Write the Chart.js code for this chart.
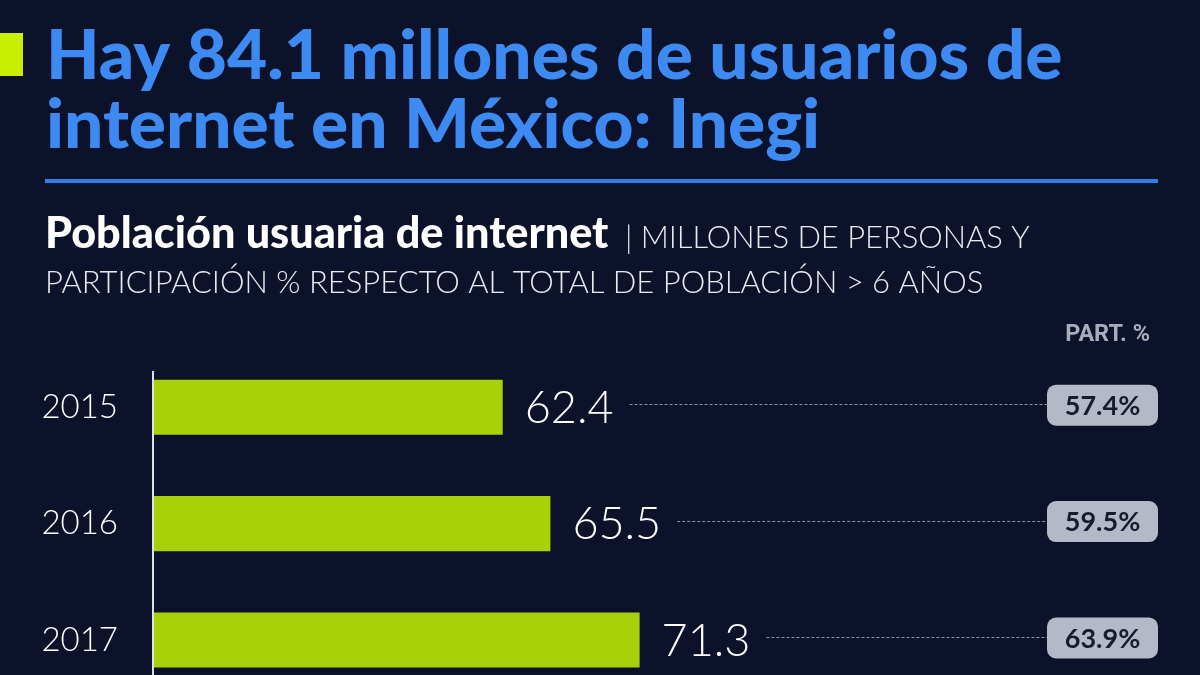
<!DOCTYPE html>
<html>
<head>
<meta charset="utf-8">
<script src="https://cdn.jsdelivr.net/npm/chart.js@4"></script>
<style>
  html, body { margin: 0; padding: 0; background: #0b1229; overflow: hidden; }
  #wrap { position: relative; width: 1200px; height: 752px; }
</style>
</head>
<body>
<div id="wrap"><canvas id="internetChart"></canvas></div>
<script>
// datos: población usuaria de internet (millones) y participación %
const years = ['2015', '2016', '2017'];
const usuarios = [62.4, 65.5, 71.3];
const participacion = [57.4, 59.5, 63.9];

const titleLines = ['Hay 84.1 millones de usuarios de', 'internet en México: Inegi'];
const subBold = 'Población usuaria de internet';
const subLight1 = '| MILLONES DE PERSONAS Y';
const subLight2 = 'PARTICIPACIÓN % RESPECTO AL TOTAL DE POBLACIÓN > 6 AÑOS';
const partLabel = 'PART. %';

const BG = '#0b1229';
const GREEN = '#a8d10a';
const BLUE = '#3d8af2';

// ajusta el tamaño de la fuente para que el texto ocupe el ancho indicado
function fitFont(ctx, text, weight, family, width) {
  ctx.font = weight + ' 100px ' + family;
  const w = ctx.measureText(text).width;
  const size = 100 * width / w;
  return weight + ' ' + size.toFixed(1) + 'px ' + family;
}

const headerPlugin = {
  id: 'header',
  beforeDraw(chart) {
    const ctx = chart.ctx;
    ctx.save();
    ctx.fillStyle = BG;
    ctx.fillRect(0, 0, chart.width, chart.height);

    // marca verde
    ctx.fillStyle = '#c8ee00';
    ctx.fillRect(0, 33, 23, 43);

    // título
    ctx.fillStyle = BLUE;
    ctx.textBaseline = 'alphabetic';
    ctx.textAlign = 'left';
    ctx.font = fitFont(ctx, titleLines[0], '900', 'Lato, "Noto Sans", sans-serif', 1017);
    ctx.fillText(titleLines[0], 46, 79);
    ctx.fillText(titleLines[1], 46, 148);

    // separador
    ctx.fillStyle = '#2f7fe6';
    ctx.fillRect(45, 179, 1113, 4);

    // subtítulo
    ctx.fillStyle = '#ffffff';
    ctx.font = fitFont(ctx, subBold, '900', 'Lato, "Noto Sans", sans-serif', 563);
    ctx.fillText(subBold, 45, 248);
    ctx.fillStyle = '#e8eaf0';
    ctx.font = fitFont(ctx, subLight1, '300', 'Lato, "Noto Sans", sans-serif', 405);
    ctx.fillText(subLight1, 625, 248);
    ctx.font = fitFont(ctx, subLight2, '300', 'Lato, "Noto Sans", sans-serif', 937);
    ctx.fillText(subLight2, 45, 293);

    // encabezado de la columna
    ctx.fillStyle = '#a9adbb';
    ctx.textAlign = 'right';
    ctx.font = fitFont(ctx, partLabel, 'bold', '"Liberation Sans Narrow", "Roboto", sans-serif', 85);
    ctx.fillText(partLabel, 1150, 341);
    ctx.restore();
  },
  afterDatasetsDraw(chart) {
    const ctx = chart.ctx;
    const meta = chart.getDatasetMeta(0);
    const yScale = chart.scales.y;
    ctx.save();

    // eje vertical
    ctx.strokeStyle = '#dde1ea';
    ctx.lineWidth = 2;
    ctx.beginPath();
    ctx.moveTo(yScale.right + 1, 371);
    ctx.lineTo(yScale.right + 1, chart.height);
    ctx.stroke();

    meta.data.forEach((bar, i) => {
      const y = bar.y;
      // valor
      ctx.fillStyle = '#ffffff';
      ctx.textAlign = 'left';
      ctx.textBaseline = 'middle';
      ctx.font = '300 45px Lato, "Noto Sans", sans-serif';
      const txt = usuarios[i].toFixed(1);
      const tx = bar.x + 22;
      ctx.fillText(txt, tx, y + 1);
      const tw = ctx.measureText(txt).width;

      // pastilla
      const px = 1047, pw = 111, ph = 41;
      const py = y - 2 - ph / 2;

      // línea punteada
      ctx.strokeStyle = '#8a91a8';
      ctx.lineWidth = 1;
      ctx.setLineDash([3, 2]);
      ctx.beginPath();
      ctx.moveTo(tx + tw + 16, Math.round(y - 3) + 0.5);
      ctx.lineTo(px, Math.round(y - 3) + 0.5);
      ctx.stroke();
      ctx.setLineDash([]);

      ctx.fillStyle = '#b5b9c7';
      ctx.beginPath();
      ctx.roundRect(px, py, pw, ph, 9);
      ctx.fill();
      ctx.fillStyle = '#161b30';
      ctx.textAlign = 'center';
      ctx.font = '700 27px Lato, "Noto Sans", sans-serif';
      ctx.fillText(participacion[i].toFixed(1) + '%', px + pw / 2, y - 1);
    });
    ctx.restore();
  }
};

new Chart(document.getElementById('internetChart'), {
  type: 'bar',
  data: {
    labels: years,
    datasets: [{
      data: usuarios,
      backgroundColor: GREEN,
      borderWidth: 0,
      barPercentage: 0.473,
      categoryPercentage: 1
    }]
  },
  options: {
    indexAxis: 'y',
    responsive: true,
    maintainAspectRatio: false,
    animation: false,
    layout: { padding: { top: 349, bottom: 2, left: 0, right: 42 } },
    plugins: { legend: { display: false }, tooltip: { enabled: false } },
    scales: {
      x: { display: false, min: 39.6, max: 105 },
      y: {
        grid: { display: false, drawTicks: false },
        border: { display: false },
        afterFit(scale) { scale.width = 152; },
        ticks: {
          color: '#ffffff',
          padding: 34,
          font: { family: 'Lato, "Noto Sans", sans-serif', size: 33, weight: '300' }
        }
      }
    }
  },
  plugins: [headerPlugin]
});
</script>
</body>
</html>
